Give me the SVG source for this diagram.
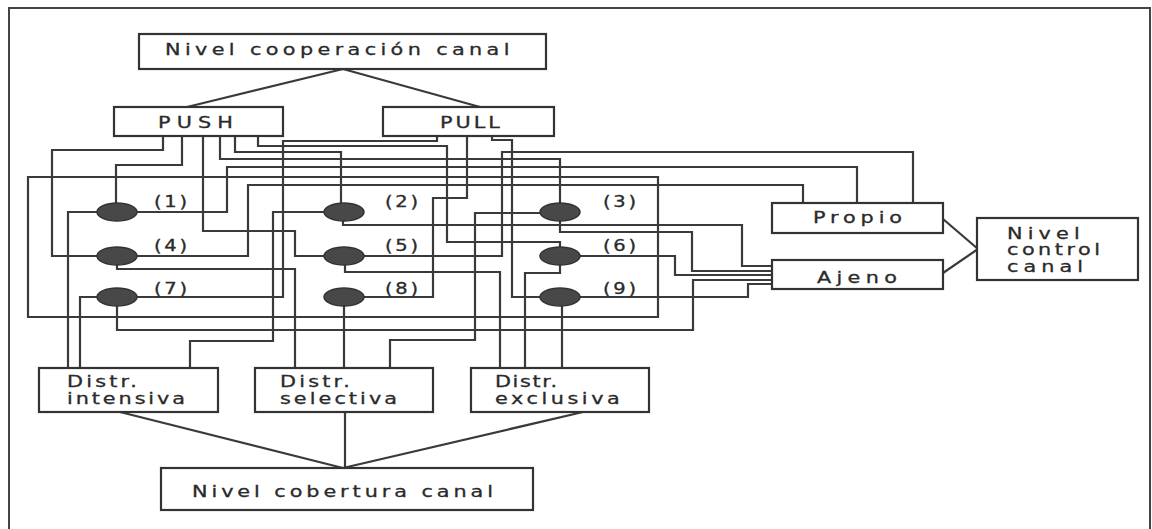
<svg xmlns="http://www.w3.org/2000/svg" width="1152" height="529" viewBox="0 0 1152 529">
<style>
.box{fill:#fff;stroke:#333;stroke-width:2.2}
.w{fill:none;stroke:#3a3a3a;stroke-width:2.2;stroke-linejoin:miter}
.t{font-family:"DejaVu Sans",sans-serif;fill:#2a2a2a;stroke:#2a2a2a;stroke-width:0.3;font-size:16px}
.n{fill:#484848;stroke:#333;stroke-width:1.5}
.lab{font-family:"DejaVu Sans",sans-serif;fill:#2a2a2a;stroke:#2a2a2a;stroke-width:0.3;font-size:15px}
</style>
<rect x="0" y="0" width="1152" height="529" fill="#fff"/>
<path d="M9,529 V8 H1150 V529" fill="none" stroke="#444" stroke-width="2"/>
<g id="connectors">
<path class="w" d="M343,69 L187,107 M343,69 L480,107"/>
<path class="w" d="M943,219 L978,249 M943,273 L978,249"/>
<path class="w" d="M120,412 L343,468 M345,412 V468 M583,412 L343,468"/>
<path class="w" d="M163,136 V150 H52 V256 H97"/>
<path class="w" d="M182,136 V165 H116 V203"/>
<path class="w" d="M203,136 V231 H295 V256 H324"/>
<path class="w" d="M220,136 V159 H560 V203"/>
<path class="w" d="M235,136 V152 H341 V203"/>
<path class="w" d="M258,136 V146 H447 V242 H560 V247"/>
<path class="w" d="M437,136 V141 H283 V297 H137"/>
<path class="w" d="M467,136 V198 H433 V297 H364"/>
<path class="w" d="M492,136 V140 H512 V297 H540"/>
<path class="w" d="M97,212 H68 V368"/>
<path class="w" d="M137,212 H227 V167 H857 V203"/>
<path class="w" d="M324,212 H273 V341 H190 V368"/>
<path class="w" d="M343,221 V225 H742 V266 H772"/>
<path class="w" d="M540,213 H475 V340 H390 V368"/>
<path class="w" d="M560,221 V232 H692 V271 H772"/>
<path class="w" d="M137,256 H248 V185 H803 V203"/>
<path class="w" d="M117,265 V269 H295 V368"/>
<path class="w" d="M364,256 H502 V152 H913 V203"/>
<path class="w" d="M345,265 V272 H500 V368"/>
<path class="w" d="M580,256 H675 V275 H772"/>
<path class="w" d="M560,265 V273 H525 V368"/>
<path class="w" d="M97,297 H80 V368"/>
<path class="w" d="M117,306 V330 H693 V280 H772"/>
<path class="w" d="M344,306 V368"/>
<path class="w" d="M580,297 H748 V284 H772"/>
<path class="w" d="M562,306 V368"/>
<path class="w" d="M28,177 H658 V317 H28 Z"/>
</g>
<g id="coop"><rect class="box" x="139" y="34" width="407" height="35"/><text class="t" transform="translate(165,55) scale(1.3,1)" font-size="17" textLength="265" lengthAdjust="spacing">Nivel cooperación canal</text></g>
<g id="push"><rect class="box" x="114" y="107" width="169" height="29"/><text class="t" transform="translate(158,128) scale(1.3,1)" font-size="17" textLength="57.7" lengthAdjust="spacing">PUSH</text></g>
<g id="pull"><rect class="box" x="383" y="107" width="171" height="29"/><text class="t" transform="translate(440,128) scale(1.3,1)" font-size="17" textLength="46" lengthAdjust="spacing">PULL</text></g>
<g id="propio"><rect class="box" x="772" y="203" width="171" height="30"/><text class="t" transform="translate(813,223) scale(1.3,1)" textLength="68.5" lengthAdjust="spacing">Propio</text></g>
<g id="ajeno"><rect class="box" x="772" y="260" width="171" height="29"/><text class="t" transform="translate(817,283) scale(1.3,1)" textLength="61.5" lengthAdjust="spacing">Ajeno</text></g>
<g id="control"><rect class="box" x="977" y="218" width="161" height="62"/>
<text class="t" transform="translate(1007,238.5) scale(1.3,1)" font-size="14" textLength="56" lengthAdjust="spacing">Nivel</text>
<text class="t" transform="translate(1007,255) scale(1.3,1)" font-size="14" textLength="71.5" lengthAdjust="spacing">control</text>
<text class="t" transform="translate(1007,271.5) scale(1.3,1)" font-size="14" textLength="58.5" lengthAdjust="spacing">canal</text></g>
<g id="intensiva"><rect class="box" x="39" y="368" width="179" height="44"/>
<text class="t" transform="translate(67,387) scale(1.3,1)" font-size="14.5" textLength="53.8" lengthAdjust="spacing">Distr.</text>
<text class="t" transform="translate(67,404) scale(1.3,1)" font-size="14.5" textLength="90.8" lengthAdjust="spacing">intensiva</text></g>
<g id="selectiva"><rect class="box" x="255" y="368" width="178" height="44"/>
<text class="t" transform="translate(280,387) scale(1.3,1)" font-size="14.5" textLength="53.8" lengthAdjust="spacing">Distr.</text>
<text class="t" transform="translate(280,404) scale(1.3,1)" font-size="14.5" textLength="90" lengthAdjust="spacing">selectiva</text></g>
<g id="exclusiva"><rect class="box" x="471" y="368" width="178" height="44"/>
<text class="t" transform="translate(495,387) scale(1.3,1)" font-size="14.5" textLength="47.7" lengthAdjust="spacing">Distr.</text>
<text class="t" transform="translate(495,404) scale(1.3,1)" font-size="14.5" textLength="96" lengthAdjust="spacing">exclusiva</text></g>
<g id="cobertura"><rect class="box" x="161" y="468" width="372" height="42"/><text class="t" transform="translate(192,497) scale(1.3,1)" font-size="17" textLength="231.5" lengthAdjust="spacing">Nivel cobertura canal</text></g>
<g id="n1"><ellipse class="n" cx="117" cy="212" rx="20" ry="9"/><text class="lab" transform="translate(154,207) scale(1.3,1)" textLength="25.4" lengthAdjust="spacing">(1)</text></g>
<g id="n2"><ellipse class="n" cx="344" cy="212" rx="20" ry="9"/><text class="lab" transform="translate(385,207) scale(1.3,1)" textLength="25.4" lengthAdjust="spacing">(2)</text></g>
<g id="n3"><ellipse class="n" cx="560" cy="212" rx="20" ry="9"/><text class="lab" transform="translate(603,207) scale(1.3,1)" textLength="25.4" lengthAdjust="spacing">(3)</text></g>
<g id="n4"><ellipse class="n" cx="117" cy="256" rx="20" ry="9"/><text class="lab" transform="translate(154,251) scale(1.3,1)" textLength="25.4" lengthAdjust="spacing">(4)</text></g>
<g id="n5"><ellipse class="n" cx="344" cy="256" rx="20" ry="9"/><text class="lab" transform="translate(385,251) scale(1.3,1)" textLength="25.4" lengthAdjust="spacing">(5)</text></g>
<g id="n6"><ellipse class="n" cx="560" cy="256" rx="20" ry="9"/><text class="lab" transform="translate(603,251) scale(1.3,1)" textLength="25.4" lengthAdjust="spacing">(6)</text></g>
<g id="n7"><ellipse class="n" cx="117" cy="297" rx="20" ry="9"/><text class="lab" transform="translate(154,294) scale(1.3,1)" textLength="25.4" lengthAdjust="spacing">(7)</text></g>
<g id="n8"><ellipse class="n" cx="344" cy="297" rx="20" ry="9"/><text class="lab" transform="translate(385,294) scale(1.3,1)" textLength="25.4" lengthAdjust="spacing">(8)</text></g>
<g id="n9"><ellipse class="n" cx="560" cy="297" rx="20" ry="9"/><text class="lab" transform="translate(603,294) scale(1.3,1)" textLength="25.4" lengthAdjust="spacing">(9)</text></g>
</svg>
